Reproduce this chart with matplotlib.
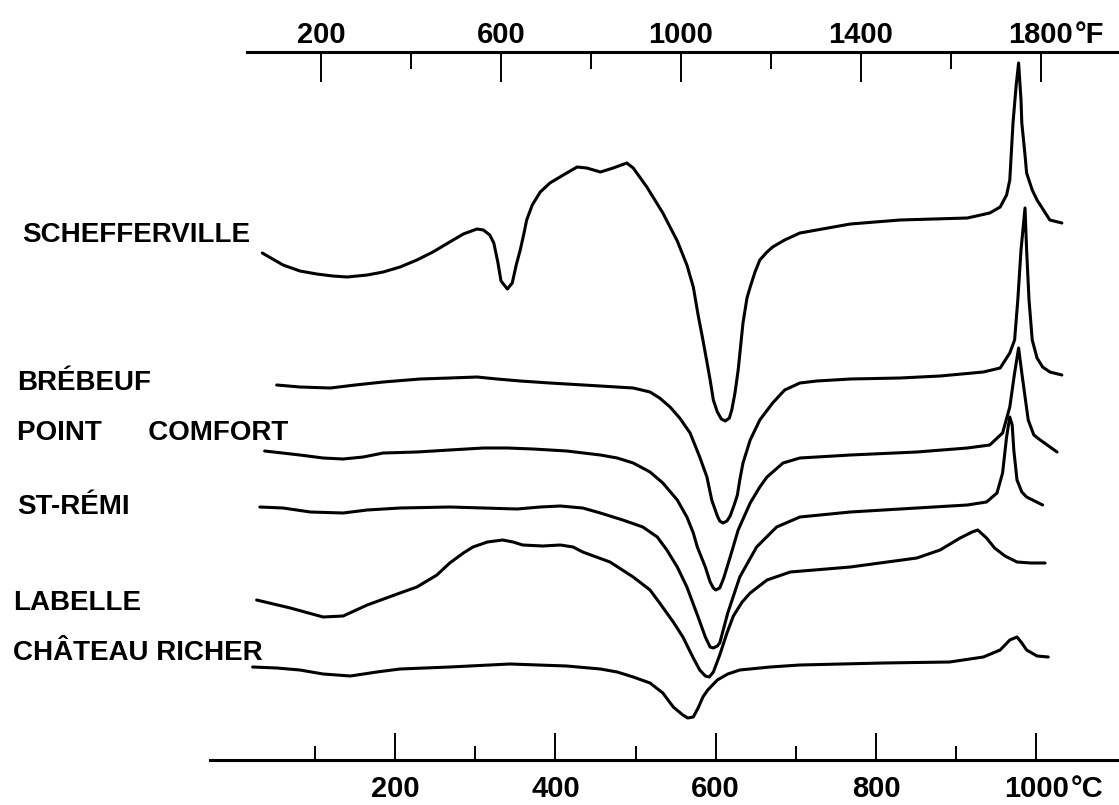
import matplotlib
matplotlib.use("Agg")
import matplotlib.pyplot as plt

# --- DTA traces: furnace temperature (deg C) vs pen deflection (arbitrary units) ---

schefferville_t = [34, 60, 81, 102, 122, 140, 165, 185, 206, 227, 247, 268, 285, 302, 310, 318,
                   323, 328, 332, 340, 346, 351, 356, 361, 364, 371, 381, 393, 414, 427, 439,
                   456, 472, 489, 497, 514, 534, 552, 564, 572, 578, 584, 589, 593, 597, 602,
                   607, 612, 617, 620, 624, 628, 634, 639, 643, 649, 655, 664, 671, 686, 705,
                   768, 830, 914, 942, 955, 963, 967, 971, 975, 978, 981, 982, 986, 988, 995,
                   1001, 1017, 1032]
schefferville_y = [50.7, 49.5, 48.9, 48.6, 48.4, 48.3, 48.5, 48.8, 49.3, 50.0, 50.8, 51.8, 52.6,
                   53.1, 53.0, 52.5, 51.7, 49.8, 47.9, 47.1, 47.7, 49.5, 51.0, 52.8, 54.0, 55.5,
                   56.8, 57.7, 58.7, 59.3, 59.2, 58.8, 59.2, 59.7, 59.2, 57.3, 54.7, 51.9, 49.5,
                   47.3, 44.5, 42.0, 39.8, 38.0, 36.0, 34.8, 34.1, 33.9, 34.2, 35.0, 36.7, 39.0,
                   43.7, 46.2, 47.3, 48.8, 50.0, 50.8, 51.3, 52.0, 52.7, 53.6, 54.0, 54.2, 54.7,
                   55.3, 56.5, 58.0, 63.7, 67.5, 69.7, 66.0, 63.7, 60.5, 58.7, 57.0, 56.0, 54.0,
                   53.7]

brebeuf_t = [52, 81, 119, 150, 185, 231, 268, 302, 327, 356, 393, 456, 497, 518, 530, 543, 555,
             568, 580, 589, 595, 602, 605, 609, 614, 618, 623, 627, 630, 634, 643, 655, 671,
             686, 705, 726, 768, 830, 880, 934, 955, 967, 973, 977, 981, 986, 988, 991, 995,
             1001, 1008, 1017, 1032]
brebeuf_y = [37.5, 37.3, 37.2, 37.5, 37.8, 38.1, 38.2, 38.3, 38.1, 37.9, 37.7, 37.4, 37.2, 36.8,
             36.2, 35.3, 34.2, 32.7, 30.3, 28.3, 26.0, 24.4, 23.9, 23.7, 23.9, 24.4, 25.5, 26.5,
             28.0, 29.7, 32.0, 34.0, 35.7, 37.0, 37.7, 37.9, 38.1, 38.2, 38.4, 38.8, 39.2, 40.7,
             42.0, 46.0, 51.0, 55.2, 51.0, 46.0, 42.0, 40.2, 39.3, 38.8, 38.5]

point_comfort_t = [37, 81, 110, 135, 160, 185, 227, 268, 310, 340, 372, 414, 456, 477, 497, 518,
                   534, 552, 564, 572, 577, 587, 593, 597, 600, 605, 610, 618, 628, 643, 655,
                   664, 684, 705, 768, 851, 914, 942, 958, 967, 973, 978, 982, 990, 997, 1005,
                   1026]
point_comfort_y = [30.9, 30.5, 30.2, 30.1, 30.3, 30.7, 30.8, 31.0, 31.2, 31.2, 31.1, 30.9, 30.5,
                   30.2, 29.7, 28.8, 27.7, 26.0, 24.3, 22.7, 21.3, 19.3, 17.8, 17.2, 17.0, 17.2,
                   18.2, 20.3, 23.0, 25.7, 27.3, 28.3, 29.7, 30.2, 30.5, 30.8, 31.2, 31.5, 32.7,
                   35.3, 38.7, 41.2, 38.7, 34.0, 32.5, 32.0, 30.8]

st_remi_t = [31, 60, 94, 135, 165, 206, 268, 310, 352, 381, 406, 434, 456, 484, 509, 527, 539,
             552, 564, 578, 587, 593, 597, 602, 605, 615, 630, 651, 676, 705, 768, 851, 914,
             938, 951, 958, 963, 967, 970, 972, 976, 982, 988, 1008]
st_remi_y = [25.3, 25.2, 24.8, 24.7, 25.0, 25.2, 25.3, 25.2, 25.1, 25.3, 25.4, 25.2, 24.7, 24.0,
             23.3, 22.3, 21.0, 19.3, 17.3, 14.3, 12.3, 11.3, 11.2, 11.4, 11.7, 14.7, 18.3, 21.3,
             23.3, 24.3, 24.8, 25.2, 25.5, 25.8, 26.7, 28.7, 32.3, 34.3, 33.5, 31.0, 28.0, 26.8,
             26.3, 25.5]

labelle_t = [27, 69, 110, 135, 165, 206, 227, 252, 268, 285, 297, 315, 334, 347, 359, 384, 406,
             422, 434, 468, 497, 518, 530, 547, 559, 572, 580, 587, 592, 597, 605, 614, 622,
             633, 643, 664, 693, 768, 851, 880, 905, 920, 927, 938, 948, 961, 976, 993, 1011]
labelle_y = [16.0, 15.2, 14.3, 14.4, 15.5, 16.7, 17.3, 18.5, 19.7, 20.7, 21.3, 21.8, 22.0, 21.8,
             21.5, 21.4, 21.5, 21.3, 20.8, 19.8, 18.3, 17.0, 15.7, 13.8, 12.3, 10.2, 9.0, 8.4,
             8.3, 8.8, 10.5, 12.7, 14.4, 15.8, 16.7, 18.0, 18.8, 19.3, 20.2, 21.0, 22.2, 22.8,
             23.0, 22.2, 21.2, 20.4, 19.8, 19.7, 19.7]

chateau_richer_t = [22, 52, 81, 110, 144, 177, 206, 268, 343, 414, 456, 477, 497, 518, 534, 547,
                    559, 565, 572, 578, 584, 590, 602, 615, 630, 668, 705, 809, 892, 934, 955,
                    967, 976, 982, 988, 1001, 1015]
chateau_richer_y = [9.3, 9.2, 9.0, 8.6, 8.4, 8.8, 9.1, 9.3, 9.6, 9.4, 9.1, 8.8, 8.3, 7.7, 6.7,
                    5.3, 4.5, 4.2, 4.3, 5.2, 6.3, 7.0, 8.0, 8.6, 9.0, 9.3, 9.5, 9.7, 9.8, 10.3,
                    11.0, 12.0, 12.3, 11.7, 11.0, 10.4, 10.3]

trace_names = ["SCHEFFERVILLE", "BRÉBEUF", "POINT      COMFORT", "ST-RÉMI", "LABELLE",
               "CHÂTEAU RICHER"]

# temperature scales
celsius_major = [200, 400, 600, 800, 1000]
celsius_minor = [100, 300, 500, 700, 900]
fahrenheit_major = [200, 600, 1000, 1400, 1800]
fahrenheit_minor = [400, 800, 1200, 1600]

plt.rcParams['font.family'] = ['Liberation Sans', 'DejaVu Sans']
plt.rcParams['font.weight'] = 'bold'

LW = 2.2
FS = 21

fig = plt.figure(figsize=(11.19, 8.05), dpi=100)
ax = fig.add_axes([0.18767, 0.05590, 0.81233, 0.87950])
ax.set_xlim(-31.2, 1103.3)
ax.set_ylim(0, 70.8)

traces = [
    (schefferville_t, schefferville_y),
    (brebeuf_t, brebeuf_y),
    (point_comfort_t, point_comfort_y),
    (st_remi_t, st_remi_y),
    (labelle_t, labelle_y),
    (chateau_richer_t, chateau_richer_y),
]
for t, y in traces:
    ax.plot(t, y, color='black', lw=LW, solid_joinstyle='round', solid_capstyle='round',
            clip_on=False)

# trace names down the left margin (x in deg C, y baseline in chart units)
label_x = [-266, -272, -272, -272, -277, -277]
label_y = [51.8, 37.0, 32.0, 24.6, 15.0, 10.0]
for name, lx, ly in zip(trace_names, label_x, label_y):
    ax.text(lx, ly, name, fontsize=20, fontweight='bold', ha='left', va='baseline',
            clip_on=False)

# bottom axis: deg C
for side in ['left', 'right', 'top']:
    ax.spines[side].set_visible(False)
ax.spines['bottom'].set_linewidth(LW)
ax.set_yticks([])
ax.set_xticks(celsius_major)
ax.set_xticks(celsius_minor, minor=True)
ax.set_xticklabels([str(v) for v in celsius_major])
ax.tick_params(axis='x', which='major', direction='in', length=19.5, width=1.4,
               labelsize=FS, pad=11)
ax.tick_params(axis='x', which='minor', direction='in', length=10, width=1.4)
ax.annotate("°C", xy=(1000, 0), xycoords='data', xytext=(24.5, -11),
            textcoords='offset points', ha='left', va='top', fontsize=FS,
            fontweight='bold', annotation_clip=False)

# top axis: deg F
ax_top = ax.twiny()
ax_top.set_xlim(-46.4, 1974.4)
for side in ['left', 'right', 'bottom']:
    ax_top.spines[side].set_visible(False)
ax_top.spines['top'].set_linewidth(LW)
ax_top.spines['top'].set_bounds(35.9, 1974.4)
ax_top.set_xticks(fahrenheit_major)
ax_top.set_xticks(fahrenheit_minor, minor=True)
ax_top.set_xticklabels([str(v) for v in fahrenheit_major])
ax_top.tick_params(axis='x', which='major', direction='in', length=21.5, width=1.4,
                   labelsize=FS, pad=2)
ax_top.tick_params(axis='x', which='minor', direction='in', length=12, width=1.4)
ax_top.annotate("°F", xy=(1800, 1), xycoords=('data', 'axes fraction'), xytext=(24.5, 2),
                textcoords='offset points', ha='left', va='bottom', fontsize=FS,
                fontweight='bold', annotation_clip=False)

fig.savefig('out.png', dpi=100)
